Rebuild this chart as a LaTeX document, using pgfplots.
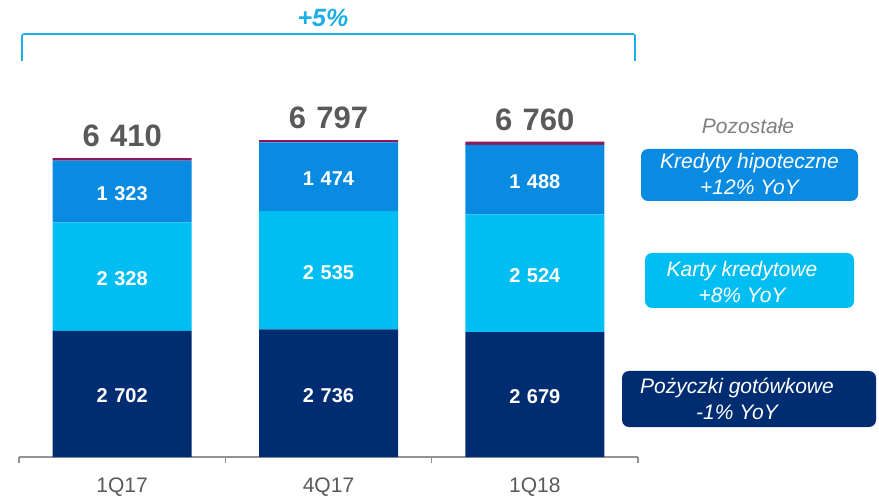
\documentclass[border=0pt]{standalone}
\usepackage{pgfplots}
\pgfplotsset{compat=1.18}
\usepackage{pgfplotstable}
\usepackage{fontspec}
\setmainfont{Liberation Sans}
\definecolor{navy}{HTML}{002D72}
\definecolor{lcyan}{HTML}{00BEF2}
\definecolor{mblue}{HTML}{0A8BE2}
\definecolor{purp}{HTML}{8A1A5C}
\definecolor{dgray}{HTML}{58595B}
\definecolor{tgray}{HTML}{595959}
\definecolor{lgray}{HTML}{7F7F7F}
\definecolor{bcyan}{HTML}{1AADE6}
\pgfplotstableread{
x loan card mort other total
0 2702 2328 1323 57 6410
1 2736 2535 1474 52 6797
2 2679 2524 1488 69 6760
}\data
\begin{document}
\begin{tikzpicture}[x=1pt,y=1pt]
\path[use as bounding box] (0,0) rectangle (879,496);
\begin{axis}[
  at={(19pt,39pt)}, anchor=south west,
  scale only axis, width=619pt, height=373.1pt,
  xmin=-0.5, xmax=2.5, ymin=0, ymax=8000,
  ybar stacked, bar width=139pt,
  axis x line*=bottom, axis y line=none,
  x axis line style={-, color=gray!85, line width=1.1pt},
  xtick={0,1,2}, xticklabels={1Q17,4Q17,1Q18},
  major tick length=0pt,
  minor xtick={-0.5,0.5,1.5,2.5},
  minor tick length=6pt,
  xtick align=outside,
  minor tick style={color=gray!85, line width=1.1pt},
  xticklabel style={font=\fontsize{21}{25}\selectfont, text=tgray, yshift=-17pt},
  ytick=\empty,
  clip=false,
  /pgf/number format/.cd, 1000 sep={\hspace{0.33em}}, assume math mode=true,
  /pgfplots/.cd,
  point meta=explicit,
  mid label/.style={nodes near coords,
    every node near coord/.style={anchor=center, yshift=-2pt, text=white,
      font=\fontsize{20}{24}\selectfont\bfseries}},
]
\addplot[fill=navy, draw=none, mid label] table[x=x, y=loan, meta=loan]{\data};
\addplot[fill=lcyan, draw=none, mid label] table[x=x, y=card, meta=card]{\data};
\addplot[fill=mblue, draw=none, mid label] table[x=x, y=mort, meta=mort]{\data};
\addplot[fill=purp, draw=none, nodes near coords,
  every node near coord/.style={anchor=base, yshift=13pt, text=dgray,
    font=\fontsize{31}{36}\selectfont\bfseries}]
  table[x=x, y=other, meta=total]{\data};
\end{axis}
% growth bracket
\draw[bcyan, line width=1.6pt, rounded corners=2pt] (22,435) -- (22,462) -- (635,462) -- (635,435);
\node[anchor=base, text=bcyan, font=\fontsize{25}{30}\selectfont\bfseries\itshape] at (323,469.5) {+5\%};
% legend
\node[text=lgray, font=\fontsize{21}{26}\selectfont\itshape] at (748,370) {Pozostałe};
\fill[mblue, rounded corners=7pt] (641,295) rectangle (858,347);
\node[text=white, align=center, font=\fontsize{21}{26}\selectfont\itshape] at (749.5,322) {Kredyty hipoteczne\\+12\% YoY};
\fill[lcyan, rounded corners=7pt] (645,188) rectangle (854,243);
\node[text=white, align=center, font=\fontsize{21}{26}\selectfont\itshape] at (742,214) {Karty kredytowe\\+8\% YoY};
\fill[navy, rounded corners=7pt] (622,69) rectangle (876,125);
\node[text=white, align=center, font=\fontsize{21}{26}\selectfont\itshape] at (737,97) {Pożyczki gotówkowe\\-1\% YoY};
\end{tikzpicture}
\end{document}
